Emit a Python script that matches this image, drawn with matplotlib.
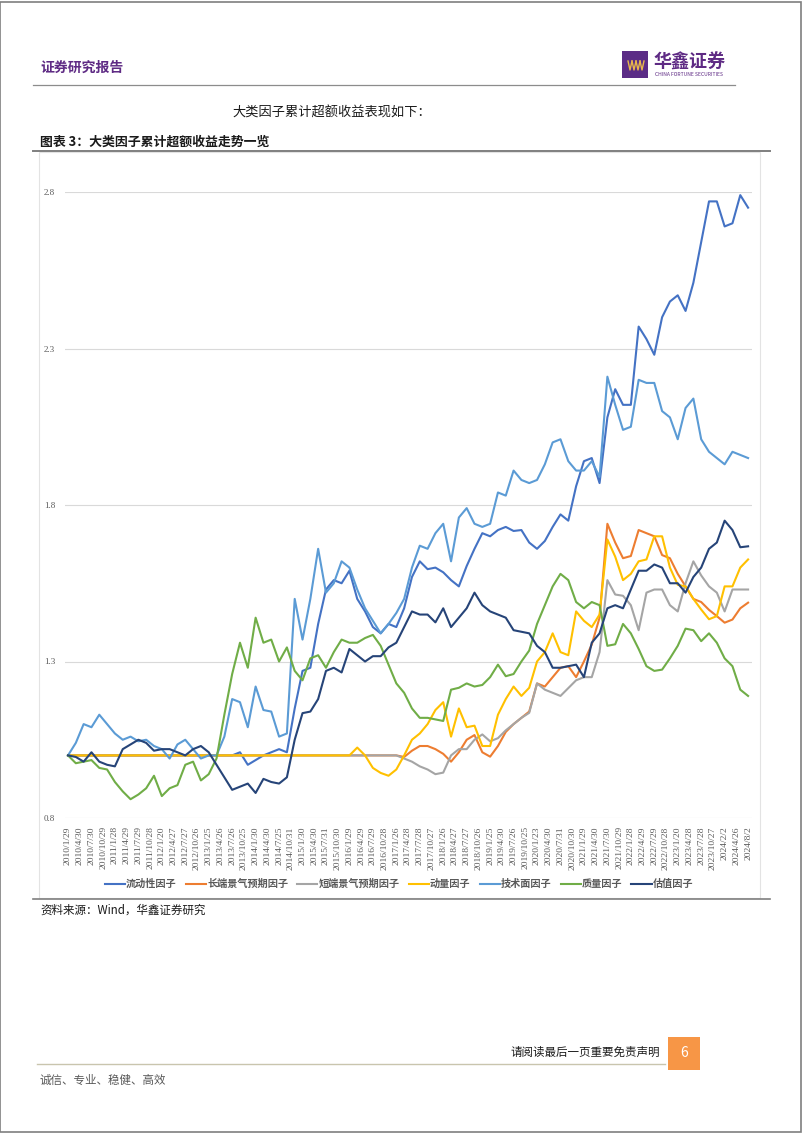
import numpy as np
import matplotlib
matplotlib.use("Agg")
import matplotlib.pyplot as plt
from matplotlib.patches import Rectangle
from matplotlib.lines import Line2D

plt.rcParams['font.family'] = ['Noto Sans CJK SC', 'DejaVu Sans']

#----Data (cumulative excess return, every 2nd month)----

tick_labels = ["2010/1/29", "2010/4/30", "2010/7/30", "2010/10/29", "2011/1/28", "2011/4/29",
               "2011/7/29", "2011/10/28", "2012/1/20", "2012/4/27", "2012/7/27", "2012/10/26",
               "2013/1/25", "2013/4/26", "2013/7/26", "2013/10/25", "2014/1/30", "2014/4/30",
               "2014/7/25", "2014/10/31", "2015/1/30", "2015/4/30", "2015/7/31", "2015/10/30",
               "2016/1/29", "2016/4/29", "2016/7/29", "2016/10/28", "2017/1/26", "2017/4/28",
               "2017/7/28", "2017/10/27", "2018/1/26", "2018/4/27", "2018/7/27", "2018/10/26",
               "2019/1/25", "2019/4/30", "2019/7/26", "2019/10/25", "2020/1/23", "2020/4/30",
               "2020/7/31", "2020/10/30", "2021/1/29", "2021/4/30", "2021/7/30", "2021/10/29",
               "2022/1/28", "2022/4/29", "2022/7/29", "2022/10/28", "2023/1/20", "2023/4/28",
               "2023/7/28", "2023/10/27", "2024/2/2", "2024/4/26", "2024/8/2"]
n_months = 175
x_idx = np.arange(0, n_months, 2)

liquidity = [1.0] * 20 + [
    1.00, 1.00, 1.01, 0.97, 0.985, 1.00, 1.01, 1.02, 1.01, 1.15,
    1.27, 1.28, 1.42, 1.53, 1.56, 1.55, 1.59, 1.50, 1.46, 1.41,
    1.39, 1.42, 1.41, 1.47, 1.57, 1.62, 1.595, 1.60, 1.585, 1.56,
    1.54, 1.605, 1.66, 1.71, 1.70, 1.72, 1.73, 1.717, 1.72, 1.68,
    1.66, 1.685, 1.73, 1.77, 1.75, 1.86, 1.94, 1.95, 1.87, 2.08,
    2.17, 2.12, 2.12, 2.37, 2.33, 2.28, 2.40, 2.45, 2.47, 2.42,
    2.51, 2.64, 2.77, 2.77, 2.69, 2.70, 2.79, 2.75]

long_prosp = [1.0] * 40 + [
    1.0, 1.0, 1.0, 0.995, 1.015, 1.03, 1.03, 1.02, 1.005, 0.98,
    1.01, 1.05, 1.065, 1.01, 0.996, 1.03, 1.075, 1.10, 1.12, 1.14,
    1.23, 1.22, 1.25, 1.28, 1.285, 1.25, 1.30, 1.354, 1.44, 1.74,
    1.68, 1.63, 1.637, 1.72, 1.71, 1.70, 1.64, 1.63, 1.58, 1.54,
    1.50, 1.49, 1.465, 1.445, 1.424, 1.434, 1.47, 1.488]

short_prosp = [1.0] * 40 + [
    1.0, 1.0, 1.0, 0.99, 0.98, 0.965, 0.955, 0.94, 0.945, 1.0,
    1.02, 1.02, 1.05, 1.067, 1.045, 1.055, 1.08, 1.10, 1.12, 1.136,
    1.23, 1.21, 1.20, 1.19, 1.215, 1.24, 1.25, 1.25, 1.33, 1.56,
    1.514, 1.51, 1.48, 1.40, 1.52, 1.53, 1.53, 1.48, 1.46, 1.55,
    1.62, 1.575, 1.54, 1.52, 1.46, 1.53, 1.53, 1.53]

momentum = [1.0] * 37 + [
    1.025, 1.0, 0.96,
    0.944, 0.935, 0.955, 1.0, 1.05, 1.07, 1.10, 1.145, 1.17, 1.06,
    1.15, 1.09, 1.095, 1.03, 1.03, 1.13, 1.18, 1.22, 1.19, 1.216,
    1.30, 1.33, 1.39, 1.33, 1.32, 1.46, 1.43, 1.41, 1.45, 1.69,
    1.635, 1.56, 1.58, 1.62, 1.626, 1.70, 1.70, 1.60, 1.545, 1.54,
    1.50, 1.466, 1.435, 1.445, 1.54, 1.54, 1.60, 1.626]

technical = [
    1.00, 1.04, 1.10, 1.09, 1.13, 1.10, 1.07, 1.05, 1.06, 1.045,
    1.05, 1.03, 1.02, 0.99, 1.035, 1.05, 1.02, 0.99, 1.00, 1.00,
    1.06, 1.18, 1.17, 1.09, 1.22, 1.145, 1.14, 1.06, 1.07, 1.50,
    1.37, 1.50, 1.66, 1.52, 1.55, 1.62, 1.60, 1.53, 1.47, 1.43,
    1.39, 1.42, 1.455, 1.50, 1.60, 1.67, 1.66, 1.71, 1.74, 1.62,
    1.76, 1.79, 1.74, 1.73, 1.74, 1.84, 1.83, 1.91, 1.88, 1.87,
    1.88, 1.93, 2.00, 2.01, 1.94, 1.91, 1.91, 1.94, 1.89, 2.21,
    2.12, 2.04, 2.05, 2.20, 2.19, 2.19, 2.10, 2.08, 2.01, 2.11,
    2.14, 2.01, 1.97, 1.95, 1.93, 1.97, 1.96, 1.95]

quality = [
    1.00, 0.975, 0.98, 0.985, 0.96, 0.955, 0.915, 0.885, 0.86, 0.875,
    0.895, 0.935, 0.87, 0.895, 0.905, 0.97, 0.98, 0.92, 0.94, 0.99,
    1.13, 1.26, 1.36, 1.28, 1.44, 1.36, 1.37, 1.30, 1.345, 1.27,
    1.24, 1.31, 1.32, 1.28, 1.33, 1.37, 1.36, 1.36, 1.375, 1.385,
    1.35, 1.29, 1.23, 1.20, 1.15, 1.12, 1.12, 1.115, 1.11, 1.21,
    1.216, 1.23, 1.22, 1.225, 1.25, 1.29, 1.253, 1.26, 1.30, 1.335,
    1.42, 1.48, 1.54, 1.58, 1.56, 1.49, 1.47, 1.49, 1.48, 1.35,
    1.355, 1.42, 1.39, 1.34, 1.285, 1.27, 1.274, 1.31, 1.35, 1.405,
    1.40, 1.365, 1.39, 1.36, 1.31, 1.285, 1.21, 1.19]

valuation = [
    1.00, 0.995, 0.98, 1.01, 0.98, 0.97, 0.965, 1.02, 1.035, 1.05,
    1.04, 1.015, 1.02, 1.02, 1.01, 1.00, 1.02, 1.03, 1.01, 0.97,
    0.93, 0.89, 0.90, 0.91, 0.88, 0.925, 0.915, 0.91, 0.93, 1.05,
    1.135, 1.14, 1.18, 1.27, 1.28, 1.265, 1.34, 1.32, 1.30, 1.317,
    1.317, 1.345, 1.36, 1.41, 1.46, 1.45, 1.45, 1.425, 1.47, 1.41,
    1.44, 1.47, 1.52, 1.48, 1.46, 1.45, 1.44, 1.40, 1.395, 1.39,
    1.35, 1.33, 1.28, 1.28, 1.285, 1.29, 1.25, 1.36, 1.39, 1.47,
    1.48, 1.47, 1.53, 1.59, 1.59, 1.61, 1.60, 1.55, 1.55, 1.52,
    1.57, 1.60, 1.66, 1.68, 1.75, 1.72, 1.665, 1.668]

series_names = ["流动性因子", "长端景气预期因子", "短端景气预期因子", "动量因子", "技术面因子", "质量因子", "估值因子"]
series_vals = [liquidity, long_prosp, short_prosp, momentum, technical, quality, valuation]
series_cols = ["#4472C4", "#ED7D31", "#A5A5A5", "#FFC000", "#5B9BD5", "#70AD47", "#264478"]

#----Page helpers----

W, H = 802, 1133
def fx(x): return x / W
def fy(y): return 1 - y / H

fig = plt.figure(figsize=(W / 100, H / 100), dpi=100)
fig.patch.set_facecolor("white")

# page border
fig.add_artist(Rectangle((0.0005, 0.0005), 0.998, 0.998, transform=fig.transFigure,
                         fill=False, edgecolor="#7F7F7F", linewidth=1.2))

#----Header----

purple = "#5E2A84"
fig.text(fx(40), fy(68), "证券研究报告", fontsize=10, color=purple, fontweight="bold", va="center")
fig.add_artist(Rectangle((fx(622), fy(78)), 26 / W, 27 / H, transform=fig.transFigure,
                         facecolor="#5B2C86", edgecolor="none"))
for k in range(4):
    x0 = 628 + k * 4
    fig.add_artist(Line2D([fx(x0), fx(x0 + 2), fx(x0 + 4)], [fy(61), fy(70), fy(61)],
                          transform=fig.transFigure, color="#E8B84A", linewidth=1.0))
fig.text(fx(654), fy(62), "华鑫证券", fontsize=13, color=purple, fontweight="bold", va="center")
fig.text(fx(655), fy(74), "CHINA FORTUNE SECURITIES", fontsize=3.6, color=purple, va="center")
fig.add_artist(Line2D([fx(33), fx(735)], [fy(85), fy(85)], transform=fig.transFigure,
                      color="#8C8C8C", linewidth=0.9))

fig.text(fx(232), fy(113), "大类因子累计超额收益表现如下：", fontsize=9.5, color="#1A1A1A", va="center")
fig.text(fx(40), fy(142), "图表 3：大类因子累计超额收益走势一览", fontsize=9.3, color="#1A1A1A",
         fontweight="bold", va="center")
fig.add_artist(Line2D([fx(33), fx(770)], [fy(151), fy(151)], transform=fig.transFigure,
                      color="#7F7F7F", linewidth=1.4))

# chart frame
fig.add_artist(Rectangle((fx(39), fy(898)), (760 - 39) / W, (898 - 152) / H,
                         transform=fig.transFigure, fill=False, edgecolor="#E3E3E3", linewidth=0.8))
fig.add_artist(Line2D([fx(33), fx(770)], [fy(899), fy(899)], transform=fig.transFigure,
                      color="#7F7F7F", linewidth=1.2))

#----Chart----

ax = fig.add_axes([fx(65), fy(818), (752 - 65) / W, (818 - 192) / H])
for nm, v, c in zip(series_names, series_vals, series_cols):
    ax.plot(x_idx, v, color=c, linewidth=1.5, label=nm, solid_joinstyle="round")

ax.set_xlim(-0.77, 175.0)
ax.set_ylim(0.8, 2.8)
ax.set_yticks([0.8, 1.3, 1.8, 2.3, 2.8])
ax.set_yticklabels(["0.8", "1.3", "1.8", "2.3", "2.8"], family="Liberation Serif",
                   fontsize=6.5, color="#595959")
ax.set_xticks(np.arange(0, n_months, 3))
ax.set_xticklabels(tick_labels, rotation=90, family="Liberation Serif", fontsize=6.8,
                   color="#595959", va="top", ha="center")
ax.tick_params(axis="both", length=0)
ax.tick_params(axis="y", pad=7)
ax.tick_params(axis="x", pad=6)
ax.grid(axis="y", color="#D9D9D9", linewidth=0.8)
ax.set_axisbelow(True)
for s in ax.spines.values():
    s.set_visible(False)

fig.legend(loc="center", bbox_to_anchor=(fx(399), fy(884)), ncol=7, frameon=False,
           handlelength=2.0, handletextpad=0.1, columnspacing=0.9,
           labelcolor="#595959", prop={"weight": "bold", "size": 7.3})

fig.text(fx(40), fy(910), "资料来源：Wind，华鑫证券研究", fontsize=8.3, color="#1A1A1A", va="center")

#----Footer----

fig.text(fx(660), fy(1052), "请阅读最后一页重要免责声明", fontsize=8.3, color="#1A1A1A",
         ha="right", va="center")
fig.add_artist(Line2D([fx(37), fx(665)], [fy(1064), fy(1064)], transform=fig.transFigure,
                      color="#C9C5AE", linewidth=1.0))
fig.add_artist(Rectangle((fx(668), fy(1070)), 32 / W, 33 / H, transform=fig.transFigure,
                         facecolor="#F79646", edgecolor="none"))
fig.text(fx(684), fy(1053), "6", fontsize=10, color="white", ha="center", va="center")
fig.text(fx(40), fy(1080), "诚信、专业、稳健、高效", fontsize=8.3, color="#595959", va="center")

plt.savefig("out.png", dpi=100)
